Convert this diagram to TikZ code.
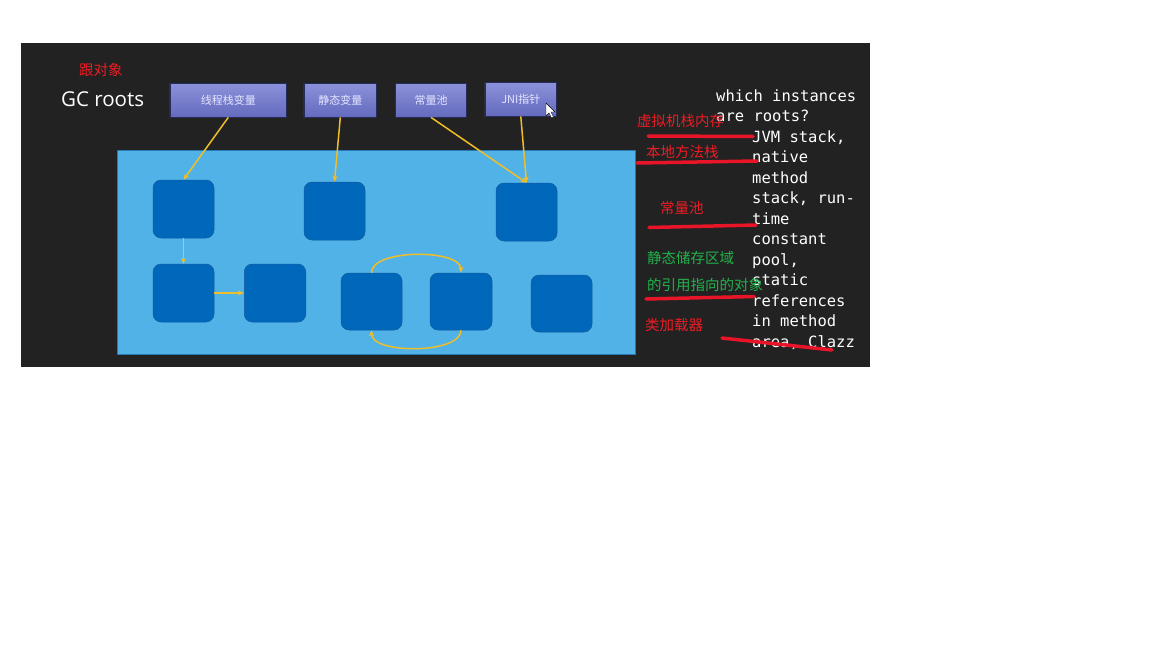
\documentclass[tikz,border=0pt]{standalone}
\usepackage{fontspec}
\newfontfamily\cjk{Noto Sans CJK SC}
\newfontfamily\mono{DejaVu Sans Mono}
\newfontfamily\gcfont{Open Sans}
\usetikzlibrary{arrows.meta}
\definecolor{board}{RGB}{34,34,34}
\definecolor{rootTop}{RGB}{140,146,218}
\definecolor{rootBot}{RGB}{100,106,190}
\definecolor{rootEdge}{RGB}{40,44,90}
\definecolor{panel}{RGB}{80,178,230}
\definecolor{panelEdge}{RGB}{40,120,180}
\definecolor{obj}{RGB}{0,104,187}
\definecolor{objEdge}{RGB}{20,90,160}
\definecolor{ref}{RGB}{240,190,40}
\definecolor{redtxt}{RGB}{237,28,36}
\definecolor{greentxt}{RGB}{34,177,76}
\definecolor{redmark}{RGB}{232,20,40}
\tikzset{
  rootbox/.style={draw=rootEdge, line width=0.8pt, top color=rootTop, bottom color=rootBot,
    minimum height=34pt, inner sep=0pt, text=white!90!blue, font=\cjk\fontsize{11}{13}\selectfont},
  objbox/.style={fill=obj, draw=objEdge, line width=0.5pt, rounded corners=8pt, inner sep=0pt},
  refarrow/.style={draw=ref, line width=1.5pt, -{Stealth[length=6pt,width=5pt]}},
  monoline/.style={anchor=base west, inner sep=0pt, text=white, font=\mono\fontsize{15.5}{18}\selectfont},
  note/.style={anchor=west, inner sep=0pt, font=\cjk\fontsize{14.5}{17}\selectfont},
  redstroke/.style={draw=redmark, line width=3.5pt, line cap=round}
}
\begin{document}
\begin{tikzpicture}[x=1pt,y=-1pt]
\useasboundingbox (0,0) rectangle (1152,648);
\fill[white] (0,0) rectangle (1152,648);
% chalkboard
\fill[board] (21,43) rectangle (870,367);
% labels left
\node[note, text=redtxt] (gen) at (79,69.5) {跟对象};
\node[anchor=west, inner sep=0pt, text=white, font=\gcfont\fontsize{20.5}{24}\selectfont] (gc) at (61,99) {GC roots};
% roots
\node[rootbox, minimum width=116.7pt] (r1) at (228.3,100) {线程栈变量};
\node[rootbox, minimum width=72.7pt] (r2) at (340.3,100) {静态变量};
\node[rootbox, minimum width=71.7pt] (r3) at (431,100) {常量池};
\node[rootbox, minimum width=71.7pt] (r4) at (520.8,99) {JNI指针};
% cursor
\filldraw[fill=white, draw=black, line width=0.4pt] (546,103) -- (546,116) -- (549,113) -- (551.5,118) -- (553.5,117) -- (551,112) -- (555,112) -- cycle;
% panel
\node[fill=panel, draw=panelEdge, line width=0.8pt, minimum width=518pt, minimum height=204pt, inner sep=0pt] (big) at (376,252) {};
% objects
\node[objbox, minimum width=61pt, minimum height=58pt] (a) at (183.5,209) {};
\node[objbox, minimum width=61pt, minimum height=58pt] (b) at (334.5,211) {};
\node[objbox, minimum width=61pt, minimum height=58pt] (c) at (526.5,212) {};
\node[objbox, minimum width=61pt, minimum height=58pt] (d) at (183.5,293) {};
\node[objbox, minimum width=61.5pt, minimum height=58pt] (e) at (275,293) {};
\node[objbox, minimum width=61pt, minimum height=57pt] (f) at (371.5,301.5) {};
\node[objbox, minimum width=62pt, minimum height=57pt] (g) at (461,301.5) {};
\node[objbox, minimum width=61pt, minimum height=57pt] (h) at (561.5,303.5) {};
% references
\draw[refarrow] (r1.south) -- (a.north);
\draw[refarrow] (r2.south) -- (b.north);
\draw[refarrow] (r3.south) -- (c.north);
\draw[refarrow] (r4.south) -- (c.north);
\draw[refarrow] (a.south) -- (d.north);
\draw[refarrow] (d.east) -- (e.west);
\draw[refarrow] (f.north) .. controls ([yshift=24pt]f.north) and ([yshift=24pt]g.north) .. (g.north);
\draw[refarrow] (g.south) .. controls ([yshift=-24pt]g.south) and ([yshift=-24pt]f.south) .. (f.south);
% right text
\node[monoline] (t1) at (716,101) {which instances};
\node[monoline] (t2) at (716,121.5) {are roots?};
\node[monoline] (t3) at (752,142) {JVM stack,};
\node[monoline] (t4) at (752,162.5) {native};
\node[monoline] (t5) at (752,183) {method};
\node[monoline] (t6) at (752,203.5) {stack, run-};
\node[monoline] (t7) at (752,224) {time};
\node[monoline] (t8) at (752,244.5) {constant};
\node[monoline] (t9) at (752,265) {pool,};
\node[monoline] (t10) at (752,285.5) {static};
\node[monoline] (t11) at (752,306) {references};
\node[monoline] (t12) at (752,326.5) {in method};
\node[monoline] (t13) at (752,347) {area, Clazz};
% annotations
\node[note, text=redtxt] (n1) at (637,121) {虚拟机栈内存};
\node[note, text=redtxt] (n2) at (646,152) {本地方法栈};
\node[note, text=redtxt] (n3) at (660,208) {常量池};
\node[note, text=greentxt] (n4) at (647,258) {静态储存区域};
\node[note, text=greentxt] (n5) at (647,284.5) {的引用指向的对象};
\node[note, text=redtxt] (n6) at (645,325) {类加载器};
% red marks
\draw[redstroke] (648,136) -- (753,136.5);
\draw[redstroke] (637,163) -- (757,161);
\draw[redstroke] (649,227.5) -- (756,225);
\draw[redstroke] (646,299) -- (754,296.5);
\draw[redstroke] (722,338) -- (832,350);
\end{tikzpicture}
\end{document}
